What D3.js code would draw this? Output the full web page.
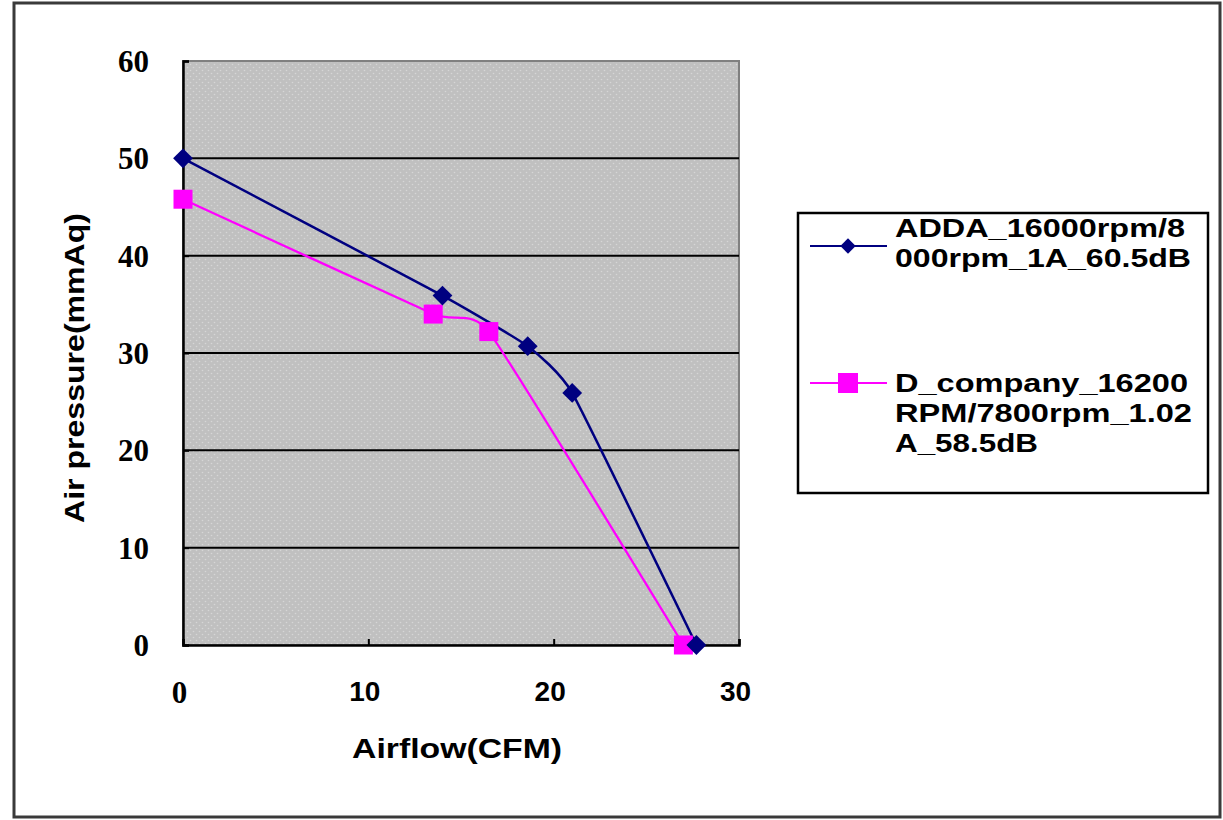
<!DOCTYPE html>
<html><head><meta charset="utf-8">
<script src="https://cdn.jsdelivr.net/npm/d3@7"></script>
<style>
html,body{margin:0;padding:0;background:#fff;}
svg{display:block;}
</style></head>
<body>
<svg id="chart" width="1223" height="820"></svg>
<script>
// ---- data ----
const xTicks = [0, 10, 20, 30];
const yTicks = [0, 10, 20, 30, 40, 50, 60];
const gridValues = [10, 20, 30, 40, 50];
const addaX = [0, 14.0, 18.6, 21.0, 27.7];
const addaY = [50, 35.9, 30.7, 25.9, 0];
const dcoX = [0, 13.5, 16.5, 27.0];
const dcoY = [45.8, 34.0, 32.2, 0];
const addaLegend = ["ADDA_16000rpm/8", "000rpm_1A_60.5dB"];
const dcoLegend = ["D_company_16200", "RPM/7800rpm_1.02", "A_58.5dB"];
const xTitle = "Airflow(CFM)";
const yTitle = "Air pressure(mmAq)";

const svg = d3.select("#chart");
const L = 183, R = 739, T = 61, B = 645;
const x = d3.scaleLinear().domain([0, 30]).range([L, R]);
const y = d3.scaleLinear().domain([0, 60]).range([B, T]);

// outer border
svg.append("rect").attr("x", 14).attr("y", 3).attr("width", 1206).attr("height", 814)
  .attr("fill", "#fff").attr("stroke", "#3a3a3a").attr("stroke-width", 3);

// dotted pattern
const defs = svg.append("defs");
const pat = defs.append("pattern").attr("id", "dots").attr("patternUnits", "userSpaceOnUse")
  .attr("width", 6).attr("height", 6);
pat.append("rect").attr("width", 6).attr("height", 6).attr("fill", "#c0c0c0");
pat.append("circle").attr("cx", 1.5).attr("cy", 1.5).attr("r", 0.8).attr("fill", "#d6d6d6");
pat.append("circle").attr("cx", 4.5).attr("cy", 4.5).attr("r", 0.8).attr("fill", "#d6d6d6");

// plot area
svg.append("rect").attr("x", L).attr("y", T).attr("width", R - L).attr("height", B - T)
  .attr("fill", "url(#dots)").attr("stroke", "#808080").attr("stroke-width", 2);

// gridlines
svg.append("g").selectAll("line").data(gridValues).join("line")
  .attr("x1", L).attr("x2", R).attr("y1", d => y(d)).attr("y2", d => y(d))
  .attr("stroke", "#000").attr("stroke-width", 2);

// axes
const yAxis = svg.append("g").attr("transform", `translate(${L},0)`)
  .call(d3.axisLeft(y).tickValues(yTicks).tickSize(-6).tickPadding(34).tickFormat(d3.format("d")));
yAxis.select(".domain").attr("stroke", "#000").attr("stroke-width", 2.5);
yAxis.selectAll(".tick line").attr("stroke", "#000").attr("stroke-width", 2);
yAxis.selectAll(".tick text").attr("font-family", "'Liberation Serif', serif")
  .attr("font-weight", "bold").attr("font-size", 31).attr("fill", "#000").attr("dy", "0.34em");

const xAxis = svg.append("g").attr("transform", `translate(0,${B})`)
  .call(d3.axisBottom(x).tickValues(xTicks).tickSize(-6).tickPadding(36).tickFormat(d3.format("d")));
xAxis.select(".domain").attr("stroke", "#000").attr("stroke-width", 2.5);
xAxis.selectAll(".tick line").attr("stroke", "#000").attr("stroke-width", 2);
xAxis.selectAll(".tick text")
  .attr("font-family", d => d === 0 ? "'Liberation Serif', serif" : "'Liberation Sans', Arial, sans-serif")
  .attr("font-weight", "bold").attr("font-size", d => d === 0 ? 31 : 28).attr("fill", "#000")
  .attr("dx", -4).attr("dy", "0.7em");

// axis titles
svg.append("text").attr("x", 457).attr("y", 758).attr("text-anchor", "middle")
  .attr("font-family", "'Liberation Sans', Arial, sans-serif").attr("font-weight", "bold")
  .attr("font-size", 28).attr("textLength", 210).attr("lengthAdjust", "spacingAndGlyphs").text(xTitle);
svg.append("text").attr("transform", "translate(84,368) rotate(-90)").attr("text-anchor", "middle")
  .attr("font-family", "'Liberation Sans', Arial, sans-serif").attr("font-weight", "bold")
  .attr("font-size", 28).attr("textLength", 310).attr("lengthAdjust", "spacingAndGlyphs").text(yTitle);

// series
const line = d3.line().x(d => x(d[0])).y(d => y(d[1])).curve(d3.curveCardinal.tension(0.6));
const adda = addaX.map((v, i) => [v, addaY[i]]);
const dco = dcoX.map((v, i) => [v, dcoY[i]]);

svg.append("path").datum(dco).attr("d", line).attr("fill", "none")
  .attr("stroke", "#ff00ff").attr("stroke-width", 2.3);
svg.append("path").datum(adda).attr("d", line).attr("fill", "none")
  .attr("stroke", "#000080").attr("stroke-width", 2.5);

svg.append("g").selectAll("rect").data(dco).join("rect")
  .attr("x", d => x(d[0]) - 9.5).attr("y", d => y(d[1]) - 9.5).attr("width", 19).attr("height", 19)
  .attr("fill", "#ff00ff");
const diamond = d3.symbol().type(d3.symbolDiamond2).size(250);
svg.append("g").selectAll("path").data(adda).join("path")
  .attr("transform", d => `translate(${x(d[0])},${y(d[1])})`).attr("d", diamond)
  .attr("fill", "#000080");

// legend
const lg = svg.append("g");
lg.append("rect").attr("x", 798).attr("y", 213).attr("width", 410).attr("height", 280)
  .attr("fill", "#fff").attr("stroke", "#000").attr("stroke-width", 2.5);
const font = "'Liberation Sans', Arial, sans-serif";
const addaWidths = [290, 296];
const dcoWidths = [293, 297, 143];
lg.append("line").attr("x1", 810).attr("x2", 887).attr("y1", 246).attr("y2", 246)
  .attr("stroke", "#000080").attr("stroke-width", 2);
lg.append("path").attr("transform", "translate(848,246)")
  .attr("d", d3.symbol().type(d3.symbolDiamond2).size(150)).attr("fill", "#000080");
addaLegend.forEach((t, i) => {
  lg.append("text").attr("x", 895).attr("y", 237 + i * 30).attr("font-family", font)
    .attr("font-weight", "bold").attr("font-size", 26).attr("textLength", addaWidths[i])
    .attr("lengthAdjust", "spacingAndGlyphs").text(t);
});
lg.append("line").attr("x1", 810).attr("x2", 887).attr("y1", 383).attr("y2", 383)
  .attr("stroke", "#ff00ff").attr("stroke-width", 2);
lg.append("rect").attr("x", 838).attr("y", 373).attr("width", 20).attr("height", 20).attr("fill", "#ff00ff");
dcoLegend.forEach((t, i) => {
  lg.append("text").attr("x", 895).attr("y", 392 + i * 30).attr("font-family", font)
    .attr("font-weight", "bold").attr("font-size", 26).attr("textLength", dcoWidths[i])
    .attr("lengthAdjust", "spacingAndGlyphs").text(t);
});
</script>
</body></html>
